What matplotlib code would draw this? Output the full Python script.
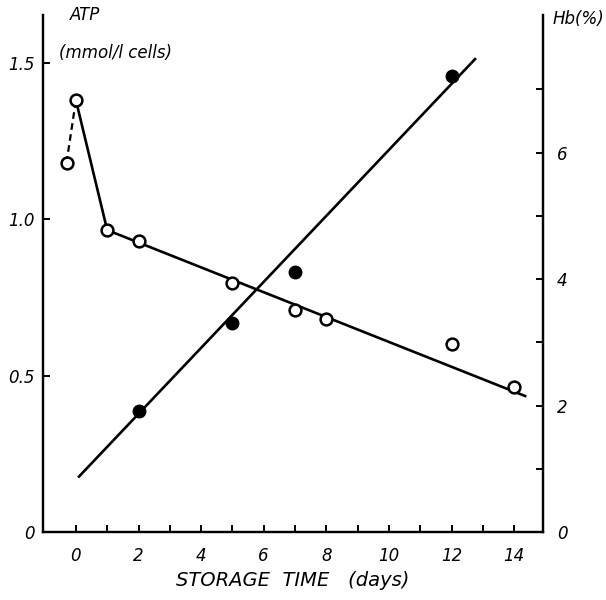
#!/usr/bin/env python3

import matplotlib
matplotlib.use('Agg')
import matplotlib.pyplot as plt

plt.rcParams['font.family'] = ['Liberation Sans Narrow', 'DejaVu Sans']
plt.rcParams['font.style'] = 'italic'

# ATP, open circles (left axis, mmol/l cells)
atp_days = [-0.3, 0, 1, 2, 5, 7, 8, 12, 14]
atp_vals = [1.18, 1.38, 0.965, 0.93, 0.795, 0.71, 0.68, 0.60, 0.465]

# drawn lines for ATP: dashed first step, solid drop, then the fitted line
atp_dash_days = [-0.3, 0]
atp_dash_vals = [1.18, 1.38]
atp_drop_days = [0, 1]
atp_drop_vals = [1.38, 0.965]
atp_fit_days = [1, 14.35]
atp_fit_vals = [0.965, 0.435]

# haemolysis, filled circles (right axis, %)
hb_days = [2, 5, 7, 12]
hb_vals = [1.91, 3.30, 4.11, 7.21]
hb_fit_days = [0.1, 12.75]
hb_fit_vals = [0.88, 7.48]

x_ticks = list(range(0, 15))
x_labels = [str(d) if d % 2 == 0 else '' for d in x_ticks]
left_ticks = [0, 0.5, 1.0, 1.5]
left_labels = ['0', '0.5', '1.0', '1.5']
right_ticks = list(range(0, 8))
right_labels = [str(v) if v % 2 == 0 else '' for v in right_ticks]

fig = plt.figure(figsize=(6.06, 6.0), dpi=100)
ax = fig.add_axes([0.071, 0.113, 0.825, 0.862])
ax2 = ax.twinx()

lw = 1.9
ax.plot(atp_dash_days, atp_dash_vals, '--', color='black', lw=1.6, dashes=(3, 2))
ax.plot(atp_drop_days, atp_drop_vals, '-', color='black', lw=lw)
ax.plot(atp_fit_days, atp_fit_vals, '-', color='black', lw=lw)
ax.plot(atp_days, atp_vals, 'o', mfc='white', mec='black', mew=1.8, ms=8.5, zorder=5)

ax2.plot(hb_fit_days, hb_fit_vals, '-', color='black', lw=lw)
ax2.plot(hb_days, hb_vals, 'o', color='black', ms=9, zorder=5)

ax.set_xlim(-1.05, 14.92)
ax.set_ylim(0, 1.652)
ax2.set_ylim(0, 1.652 * 4.95)

for a in (ax, ax2):
    a.spines['top'].set_visible(False)
    for s in ('left', 'right', 'bottom'):
        a.spines[s].set_linewidth(1.6)
    a.tick_params(direction='in', length=5, width=1.4, labelsize=12)

ax.set_xticks(x_ticks)
ax.set_xticklabels(x_labels)
ax.set_yticks(left_ticks)
ax.set_yticklabels(left_labels)
ax2.set_yticks(right_ticks)
ax2.set_yticklabels(right_labels)
ax.tick_params(axis='x', pad=11)
ax.tick_params(axis='y', pad=6)
ax2.tick_params(axis='y', pad=10)

ax.set_xlabel('STORAGE  TIME   (days)', fontsize=14, labelpad=4)

fig.text(0.115, 0.975, 'ATP', fontsize=12, va='center')
fig.text(0.098, 0.912, '(mmol/l cells)', fontsize=12, va='center')
fig.text(0.912, 0.968, 'Hb(%)', fontsize=12, va='center')

fig.savefig('out.png', dpi=100)
